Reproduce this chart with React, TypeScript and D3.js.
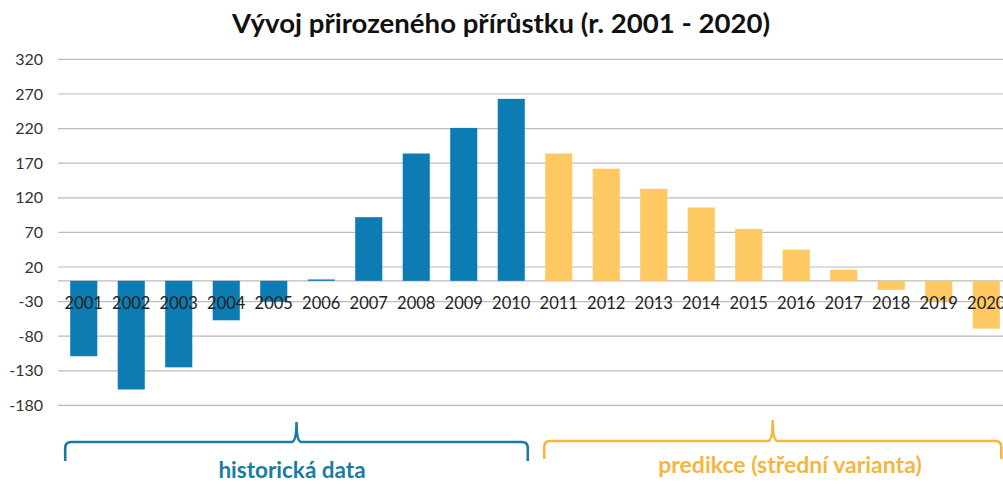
import React from "react";
import * as d3 from "d3";

const years = ["2001","2002","2003","2004","2005","2006","2007","2008","2009","2010","2011","2012","2013","2014","2015","2016","2017","2018","2019","2020"];
const historical = [-109, -157, -125, -57, -30, 2, 92, 184, 221, 263];
const prediction = [184, 162, 133, 106, 75, 45, 16, -13, -30, -69];
const yTicks = [320, 270, 220, 170, 120, 70, 20, -30, -80, -130, -180];
const title = "Vývoj přirozeného přírůstku (r. 2001 - 2020)";
const groupLabels = ["historická data", "predikce (střední varianta)"];

const W = 1003;
const H = 485;
const BLUE = "#0C7CB3";
const ORANGE = "#FEC862";
const BLUE_T = "#1B7BA3";
const ORANGE_T = "#F4B640";
const FONT = "Lato, 'Open Sans', sans-serif";

export default function App() {
  const x = d3.scaleBand<string>().domain(years).range([60, 1010]).paddingInner(0.43).paddingOuter(0.215);
  const y = d3.scaleLinear().domain([-180, 320]).range([405.4, 59.4]);
  const bw = x.bandwidth();
  const values = [...historical, ...prediction];
  const y0 = y(0);

  const brace = (l: number, r: number, hy: number, top: number, bottom: number) => {
    const c = (l + r) / 2;
    const p = d3.path();
    p.moveTo(l, bottom);
    p.lineTo(l, hy + 6);
    p.quadraticCurveTo(l, hy, l + 6, hy);
    p.lineTo(c - 5, hy);
    p.quadraticCurveTo(c, hy, c, top);
    p.quadraticCurveTo(c, hy, c + 5, hy);
    p.lineTo(r - 6, hy);
    p.quadraticCurveTo(r, hy, r, hy + 6);
    p.lineTo(r, bottom);
    return p.toString();
  };

  const bL = (x(years[0]) ?? 0) - 5;
  const bR = (x(years[9]) ?? 0) + bw + 3;
  const oL = (x(years[10]) ?? 0) - 1;
  const oR = (x(years[19]) ?? 0) + bw + 1.5;

  return (
    <svg width={W} height={H} style={{ display: "block", position: "absolute", left: 0, top: 0 }}>
      <rect width={W} height={H} fill="#fff" />
      <text x={501} y={33} textAnchor="middle" fontFamily={FONT} fontWeight={700} fontSize={26} fill="#111"
        textLength={538} lengthAdjust="spacingAndGlyphs">
        {title}
      </text>
      {yTicks.map((t) => (
        <g key={t}>
          <line x1={58} x2={W} y1={y(t)} y2={y(t)} stroke="#BBBBBB" strokeWidth={1.2} />
          <text x={43} y={y(t)} dy="0.35em" textAnchor="end" fontFamily={FONT} fontSize={16} fill="#333">
            {t}
          </text>
        </g>
      ))}
      <line x1={58} x2={W} y1={y0} y2={y0} stroke="#BBBBBB" strokeWidth={1.2} />
      {values.map((v, i) => (
        <rect
          key={years[i]}
          x={x(years[i])}
          width={bw}
          y={Math.min(y(v), y0)}
          height={Math.abs(y(v) - y0)}
          fill={i < 10 ? BLUE : ORANGE}
        />
      ))}
      {years.map((yr) => (
        <text key={yr} x={(x(yr) ?? 0) + bw / 2} y={309} textAnchor="middle" fontFamily={FONT} fontSize={16.5} fill="#222">
          {yr}
        </text>
      ))}
      <path d={brace(bL, bR, 442, 422, 461)} fill="none" stroke={BLUE_T} strokeWidth={2.6} />
      <path d={brace(oL, oR, 441, 420, 459)} fill="none" stroke={ORANGE_T} strokeWidth={2.6} />
      <text x={292} y={478} textAnchor="middle" fontFamily={FONT} fontWeight={700} fontSize={22.5} fill={BLUE_T}>
        {groupLabels[0]}
      </text>
      <text x={790} y={473} textAnchor="middle" fontFamily={FONT} fontWeight={700} fontSize={23} fill={ORANGE_T}>
        {groupLabels[1]}
      </text>
    </svg>
  );
}
